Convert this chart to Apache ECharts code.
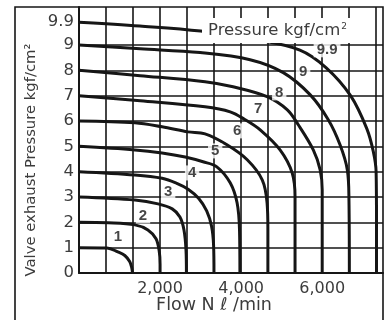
<!DOCTYPE html>
<html>
<head>
<meta charset="utf-8">
<script src="https://cdn.jsdelivr.net/npm/echarts@6/dist/echarts.min.js"></script>
<style>
html,body{margin:0;padding:0;background:#fff;}
#chart{width:386px;height:320px;}
</style>
</head>
<body>
<div id="chart"></div>
<script>
// ---- data ----
const curveNames = ['1','2','3','4','5','6','7','8','9','9.9'];
const curve1  = [[0,1.0],[690,0.99],[960,0.83],[1130,0.69],[1250,0.45],[1300,0.22],[1320,0]];
const curve2  = [[0,2.0],[720,1.98],[1380,1.9],[1700,1.7],[1900,1.35],[1980,0.85],[2000,0.35],[2000,0]];
const curve3  = [[0,3.0],[1380,2.88],[1950,2.73],[2300,2.53],[2490,2.21],[2590,1.7],[2640,0.9],[2650,0]];
const curve4  = [[0,4.0],[1380,3.87],[2050,3.74],[2400,3.55],[2700,3.3],[2950,2.95],[3150,2.45],[3270,1.85],[3320,1.1],[3330,0]];
const curve5  = [[0,5.0],[1380,4.86],[2050,4.74],[2620,4.58],[3060,4.39],[3400,4.19],[3730,3.56],[3900,2.77],[3960,1.7],[3970,0]];
const curve6  = [[0,6.0],[1380,5.93],[2050,5.77],[2690,5.57],[3110,5.49],[3650,5.06],[4150,4.47],[4520,3.68],[4640,2.77],[4660,1.7],[4660,0]];
const curve7  = [[0,7.0],[1510,6.8],[3110,6.56],[3730,6.36],[4100,6.05],[4470,5.65],[4960,4.86],[5260,3.95],[5330,3.0],[5330,0]];
const curve8  = [[0,8.0],[1510,7.79],[3110,7.55],[3800,7.35],[4640,6.96],[5140,6.44],[5410,5.85],[5780,4.86],[5950,4.07],[6000,3.28],[6000,0]];
const curve9  = [[0,9.0],[1510,8.85],[2990,8.7],[4220,8.42],[5040,7.91],[5700,7.04],[6150,6.05],[6440,5.06],[6620,4.07],[6660,2.89],[6670,0]];
const curve99 = [[0,9.9],[1500,9.75],[3000,9.55],[4400,9.2],[5450,8.8],[6100,8.1],[6700,7.0],[7100,5.7],[7260,4.8],[7330,4.0],[7340,2.0],[7340,0]];
const curves = [curve1,curve2,curve3,curve4,curve5,curve6,curve7,curve8,curve9,curve99];

const labelFlows = [960, 1580, 2200, 2790, 3360, 3900, 4420, 4940, 5530, 6120];
const labelPress = [1.42, 2.25, 3.2, 3.95, 4.82, 5.61, 6.48, 7.11, 7.94, 8.81];

const yTickLabels = [0,1,2,3,4,5,6,7,8,9,9.9];
const yGridValues = [1,2,3,4,5,6,7,8,9];
const xGridStep = 2000/3;
const xGridCount = 11;
const xTickLabels = [2000, 4000, 6000];

// ---- chart ----
const FONT = '"DejaVu Sans", Verdana, sans-serif';
const BOLD = '"Liberation Sans", Arial, sans-serif';
const INK = '#161616';
const TXT = '#3c3c3c';
const chart = echarts.init(document.getElementById('chart'), null, {renderer:'canvas'});

const gridMarks = [];
yGridValues.forEach(v => gridMarks.push({yAxis: v}));
for (let k = 1; k <= xGridCount; k++) gridMarks.push({xAxis: k * xGridStep});

const series = [{
  type: 'line', data: [], z: 1, silent: true,
  markLine: {
    silent: true, symbol: ['none','none'], label: {show:false},
    lineStyle: {color: INK, width: 1.6, type: 'solid'},
    emphasis: {disabled: true},
    animation: false,
    data: gridMarks
  }
}];
curves.forEach((c, i) => {
  series.push({
    type: 'line', name: curveNames[i], data: c, smooth: 0.35,
    showSymbol: false, symbol: 'none', z: 3,
    lineStyle: {color: INK, width: 3},
    animation: false
  });
});
series.push({
  type: 'scatter', z: 5, symbolSize: 0.1,
  itemStyle: {color: 'rgba(0,0,0,0)'},
  data: labelFlows.map((f, i) => [f, labelPress[i]]),
  label: {
    show: true, position: 'inside',
    formatter: p => curveNames[p.dataIndex],
    fontFamily: BOLD, fontSize: 15, fontWeight: 'bold', color: INK,
    backgroundColor: '#fff', padding: [0, 3, 0, 3], lineHeight: 15
  },
  animation: false
});

chart.setOption({
  animation: false,
  backgroundColor: '#fff',
  grid: {left: 79, right: 3, top: 7, bottom: 47},
  title: {
    text: 'Pressure kgf/cm{s|2}',
    left: 202, top: 18,
    backgroundColor: '#fff',
    padding: [4, 6, 4, 6],
    textStyle: {
      fontFamily: FONT, fontSize: 16.5, fontWeight: 'normal', color: TXT,
      rich: {s: {fontFamily: FONT, fontSize: 9, color: TXT, verticalAlign: 'top', padding: [0,0,8,1]}}
    },
    z: 10
  },
  xAxis: {
    type: 'value', min: 0, max: 7500, interval: 2000,
    axisLine: {show: true, lineStyle: {color: INK, width: 2}},
    axisTick: {show: false},
    splitLine: {show: false},
    axisLabel: {
      fontFamily: FONT, fontSize: 16, color: TXT, margin: 8,
      showMaxLabel: false,
      formatter: v => xTickLabels.indexOf(Math.round(v)) >= 0 ? Math.round(v).toLocaleString('en-US') : ''
    }
  },
  yAxis: {
    type: 'value', min: 0, max: 10.5, interval: 1,
    axisLine: {show: true, lineStyle: {color: INK, width: 2}},
    axisTick: {show: false},
    splitLine: {show: false},
    axisLabel: {
      fontFamily: FONT, fontSize: 16.5, color: TXT, margin: 5,
      customValues: yTickLabels,
      formatter: v => String(v)
    }
  },
  graphic: [
    {type: 'rect', shape: {x: 15, y: 7, width: 368, height: 330},
     style: {fill: 'none', stroke: INK, lineWidth: 1.6}, silent: true, z: 20},
    {type: 'text', x: 31, y: 160, rotation: Math.PI / 2,
     style: {text: 'Valve exhaust Pressure kgf/cm²', font: '14.8px ' + FONT, fill: TXT,
             textAlign: 'center', textVerticalAlign: 'middle'}},
    {type: 'text', x: 214, y: 305,
     style: {text: 'Flow N ℓ /min', font: '17.5px ' + FONT, fill: TXT,
             textAlign: 'center', textVerticalAlign: 'middle'}}
  ],
  series: series
});
</script>
</body>
</html>
